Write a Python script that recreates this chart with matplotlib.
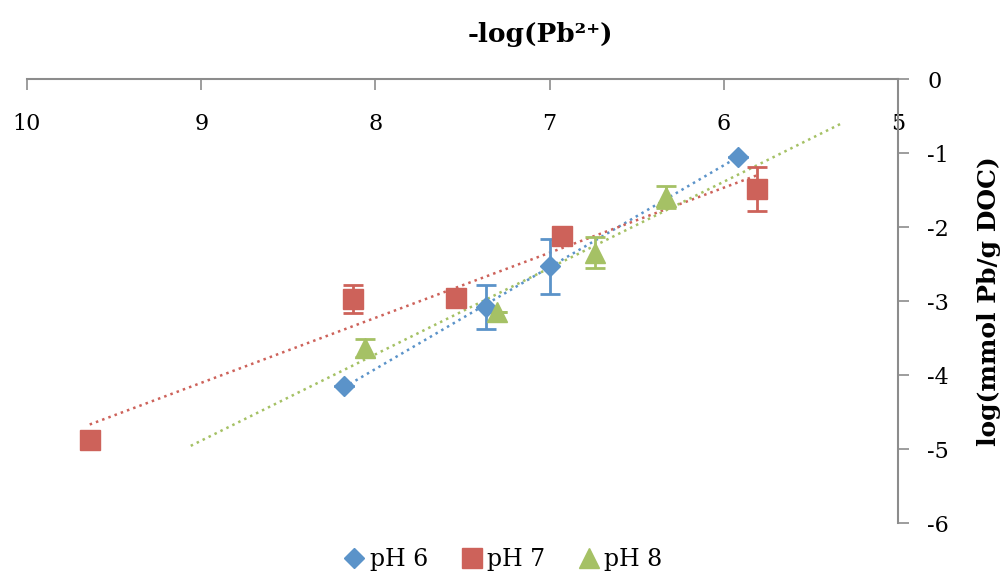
import matplotlib
matplotlib.use('Agg')
import matplotlib.pyplot as plt
import numpy as np

# data
x_ph6 = [8.18, 7.365, 7.00, 5.92]
y_ph6 = [-4.15, -3.08, -2.53, -1.05]
e_ph6 = [0.0, 0.30, 0.37, 0.0]

x_ph7 = [9.64, 8.13, 7.54, 6.93, 5.81]
y_ph7 = [-4.88, -2.97, -2.96, -2.12, -1.49]
e_ph7 = [0.0, 0.19, 0.0, 0.0, 0.30]

x_ph8 = [8.06, 7.30, 6.74, 6.33]
y_ph8 = [-3.63, -3.15, -2.35, -1.59]
e_ph8 = [0.12, 0.0, 0.21, 0.15]

labels = ['pH 6', 'pH 7', 'pH 8']
colors = ['#5B93C9', '#CD625A', '#A5C165']
markers = ['D', 's', '^']
msizes = [10, 14, 14]
# trendline extension (forward/backward) in x units
extend = [0.0, 0.0, 1.0]

plt.rcParams['font.family'] = ['DejaVu Serif']
plt.rcParams['axes.unicode_minus'] = False

fig = plt.figure(figsize=(10.06, 5.78), dpi=100)
ax = fig.add_axes([27/1006, 1 - 523/578, (898 - 27)/1006, (523 - 79)/578])

series = [(x_ph6, y_ph6, e_ph6), (x_ph7, y_ph7, e_ph7), (x_ph8, y_ph8, e_ph8)]
for (xs, ys, es), lab, c, m, ms, ext in zip(series, labels, colors, markers, msizes, extend):
    xs = np.array(xs)
    ys = np.array(ys)
    k, b = np.polyfit(xs, ys, 1)
    xl = np.array([xs.max() + ext, xs.min() - ext])
    ax.plot(xl, k * xl + b, linestyle=':', color=c, linewidth=1.8, zorder=2)
    ax.errorbar(xs, ys, yerr=es, fmt='none', ecolor=c, elinewidth=2,
                capsize=7, capthick=2, zorder=3)
    ax.plot(xs, ys, linestyle='none', marker=m, markersize=ms, color=c,
            markeredgecolor=c, label=lab, zorder=4)

ax.set_xlim(10, 5)
ax.set_ylim(-6, 0)
ax.set_xticks([10, 9, 8, 7, 6, 5])
ax.set_yticks([0, -1, -2, -3, -4, -5, -6])

for s in ['left', 'bottom']:
    ax.spines[s].set_visible(False)
for s in ['top', 'right']:
    ax.spines[s].set_color('#8C8C8C')
    ax.spines[s].set_linewidth(1.5)

ax.xaxis.tick_top()
ax.yaxis.tick_right()
ax.tick_params(axis='x', direction='in', length=8, width=1.2, color='#8C8C8C',
               pad=-40, labelsize=16)
ax.tick_params(axis='y', direction='out', length=8, width=1.2, color='#8C8C8C',
               pad=13, labelsize=16)

ax.yaxis.set_label_position('right')
ax.set_ylabel('log(mmol Pb/g DOC)', fontsize=18, fontweight='bold', labelpad=20)

fig.text(0.537, 0.94, '-log(Pb²⁺)', fontsize=19, fontweight='bold',
         ha='center', va='center')

fig.legend(loc='lower center', bbox_to_anchor=(0.5, -0.025), ncol=3, frameon=False,
           fontsize=17, handlelength=0.9, handletextpad=0.2, columnspacing=1.4,
           markerscale=1.0)

fig.savefig('out.png', dpi=100)
